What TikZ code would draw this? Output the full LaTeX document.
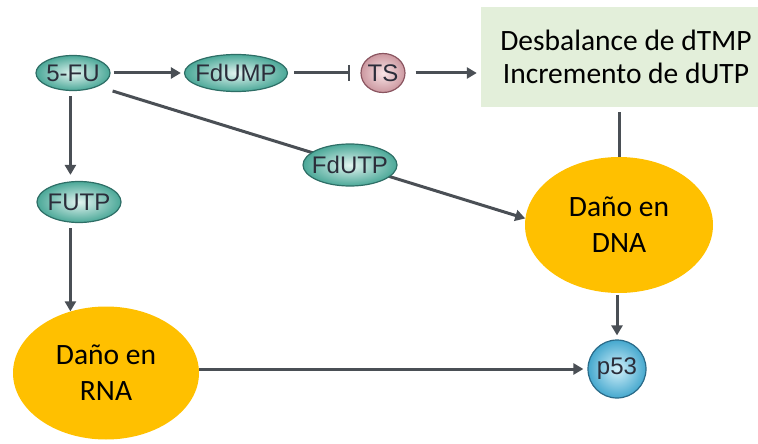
\documentclass[tikz,border=0pt]{standalone}
\usepackage{fontspec}
\setmainfont{Carlito}
\newfontfamily\nodefont{Liberation Sans}
\usetikzlibrary{arrows.meta,shapes.geometric,calc}
\definecolor{lin}{HTML}{4A4F55}
\definecolor{teallight}{HTML}{E2F4F0}
\definecolor{tealmid}{HTML}{4BA898}
\definecolor{tealdark}{HTML}{2E6E66}
\definecolor{tslight}{HTML}{F8E4E6}
\definecolor{tsmid}{HTML}{CC98A0}
\definecolor{tsdark}{HTML}{8A5560}
\definecolor{plight}{HTML}{D2F0FA}
\definecolor{pmid}{HTML}{45A8CE}
\definecolor{pdark}{HTML}{2A6A88}
\definecolor{boxgreen}{HTML}{E3EFDA}
\definecolor{gold}{HTML}{FFC000}
\definecolor{txt}{HTML}{2B2D3A}
\begin{document}
\begin{tikzpicture}[x=1pt,y=-1pt,
  conn/.style={draw=lin,line width=3pt,-{Triangle[length=10pt,width=11pt]}},
  inhib/.style={draw=lin,line width=3pt,-{Bar[width=16pt,line width=2.5pt]}},
  plainline/.style={draw=lin,line width=3pt},
  mol/.style={ellipse,draw=tealdark,line width=1.2pt,inner color=teallight,outer color=tealmid,
    font=\nodefont\fontsize{24}{24}\selectfont,text=txt,inner xsep=-8pt,inner ysep=0pt},
  damage/.style={ellipse,fill=gold,inner sep=0pt,align=center,
    font=\fontsize{29.5}{36}\selectfont,text=black},
]
\useasboundingbox (0,0) rectangle (758,444);
% nodes
\node[mol,minimum width=74pt,minimum height=35pt] (fu) at (73,73) {5-FU};
\node[mol,minimum width=103pt,minimum height=37pt] (fdump) at (236,73) {FdUMP};
\node[ellipse,draw=tsdark,line width=1.2pt,inner color=tslight,outer color=tsmid,
  minimum width=44pt,minimum height=39pt,inner sep=0pt,
  font=\nodefont\fontsize{24}{24}\selectfont,text=txt] (ts) at (383,73) {TS};
\node[rectangle,fill=boxgreen,minimum width=290pt,minimum height=100pt,align=center,
  font=\fontsize{29.5}{33}\selectfont,text=black] (box) at (626,57) {Desbalance de dTMP\\Incremento de dUTP};
\node[mol,minimum width=84pt,minimum height=41pt] (futp) at (79,202) {FUTP};
\node[damage,minimum width=188pt,minimum height=136pt] (dna) at (619,225) {Daño en\\DNA};
\node[damage,minimum width=186pt,minimum height=133pt] (rna) at (106,373) {Daño en\\RNA};
\node[circle,draw=pdark,line width=1.2pt,inner color=plight,outer color=pmid,
  minimum size=58pt,inner sep=0pt,font=\nodefont\fontsize{24}{24}\selectfont,text=txt] (p53) at (617,369) {p53};
% connectors
\draw[conn,shorten <=3pt,shorten >=3pt] (fu) -- (fdump);
\draw[inhib,shorten <=6pt,shorten >=10pt] (fdump) -- (ts);
\draw[conn,shorten <=10pt,shorten >=4pt] (ts) -- (ts -| box.west);
\draw[conn,shorten <=5pt,shorten >=6pt] (fu.south -| rna.120) -- (futp.north -| rna.120);
\draw[conn,shorten <=5pt] (futp.south -| rna.120) -- (rna.120);
\draw[conn] ($(fu.east)+(2,18)$) -- (dna.176);
\node[mol,minimum width=94pt,minimum height=42pt] (fdutp) at (350,165) {FdUTP};
\draw[plainline,shorten <=5pt] (box.south -| dna.north) -- (dna.north);
\draw[conn,shorten <=2pt,shorten >=4pt] (dna.south -| p53.north) -- (p53.north);
\draw[conn,shorten >=4pt] (rna.east |- p53.west) -- (p53.west);
\end{tikzpicture}
\end{document}
